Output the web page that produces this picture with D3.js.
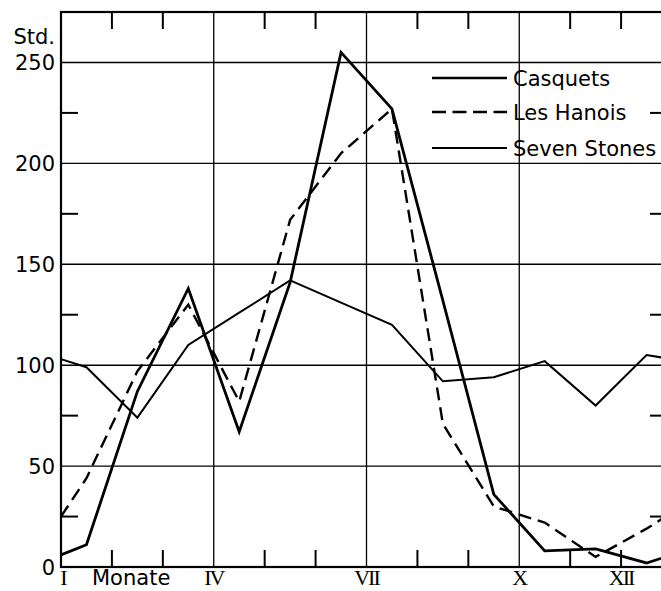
<!DOCTYPE html>
<html>
<head>
<meta charset="utf-8">
<script src="https://cdn.jsdelivr.net/npm/d3@7"></script>
<style>
  body { margin: 0; background: #fff; }
  svg text { fill: #000; }
</style>
</head>
<body>
<div id="chart"></div>
<script>
// month position (0 = start of Jan, 12 = end of Dec), points at mid-month
const monthPos = [0, 0.5, 1.5, 2.5, 3.5, 4.5, 5.5, 6.5, 7.5, 8.5, 9.5, 10.5, 11.5, 12];
const casquets = [6, 11, 87, 138, 67, 141, 255, 227, 132, 36, 8, 9, 2, 6];
const lesHanois = [25, 44, 97, 130, 82, 172, 205, 227, 71, 30, 22, 5, 19, 27];
const sevenStones = [103, 99, 74, 110, 126, 142, 131, 120, 92, 94, 102, 80, 105, 103];

const seriesNames = ["Casquets", "Les Hanois", "Seven Stones"];
const yTicks = [0, 50, 100, 150, 200, 250];
const yMinor = [25, 75, 125, 175, 225];
const monthLabels = [[0, "I"], [3, "IV"], [6, "VII"], [9, "X"], [11, "XII"]];
const xGrid = [3, 6, 9];
const xMinor = [1, 2, 4, 5, 7, 8, 10, 11];

const svgWidth = 661;
const svgHeight = 591;

const svg = d3.select("#chart")
              .append("svg")
              .attr("width", svgWidth)
              .attr("height", svgHeight);

const x = d3.scaleLinear().domain([0, 12]).range([61, 672]);
const y = d3.scaleLinear().domain([0, 275]).range([567, 12]);

// grid lines
svg.append("g")
   .selectAll("line")
   .data(yTicks.filter(d => d > 0))
   .join("line")
   .attr("x1", x(0)).attr("x2", x(12))
   .attr("y1", d => y(d)).attr("y2", d => y(d))
   .attr("stroke", "#000").attr("stroke-width", 1.4);

svg.append("g")
   .selectAll("line")
   .data(xGrid)
   .join("line")
   .attr("x1", d => x(d)).attr("x2", d => x(d))
   .attr("y1", y(0)).attr("y2", y(275))
   .attr("stroke", "#000").attr("stroke-width", 1.3);

// minor ticks on all four sides
const tickLen = 17;
const ticks = svg.append("g").attr("stroke", "#000").attr("stroke-width", 2);
xMinor.forEach(m => {
    ticks.append("line").attr("x1", x(m)).attr("x2", x(m))
         .attr("y1", y(275)).attr("y2", y(275) + tickLen);
    ticks.append("line").attr("x1", x(m)).attr("x2", x(m))
         .attr("y1", y(0)).attr("y2", y(0) - tickLen);
});
yMinor.forEach(v => {
    ticks.append("line").attr("x1", x(0)).attr("x2", x(0) + tickLen)
         .attr("y1", y(v)).attr("y2", y(v));
    ticks.append("line").attr("x1", 650).attr("x2", x(12))
         .attr("y1", y(v)).attr("y2", y(v));
});

// frame
svg.append("rect")
   .attr("x", x(0)).attr("y", y(275))
   .attr("width", x(12) - x(0)).attr("height", y(0) - y(275))
   .attr("fill", "none").attr("stroke", "#000").attr("stroke-width", 2.2);

// y labels
svg.append("g")
   .selectAll("text")
   .data(yTicks)
   .join("text")
   .attr("x", 55)
   .attr("y", d => y(d) + 7.5)
   .attr("text-anchor", "end")
   .style("font-family", "'DejaVu Sans', sans-serif")
   .style("font-size", "21px")
   .text(d => d);

svg.append("text")
   .attr("x", 55).attr("y", 44)
   .attr("text-anchor", "end")
   .style("font-family", "'DejaVu Sans', sans-serif")
   .style("font-size", "21px")
   .text("Std.");

// month labels
svg.append("g")
   .selectAll("text")
   .data(monthLabels)
   .join("text")
   .attr("x", d => x(d[0]) + (d[0] === 0 ? 2 : 0))
   .attr("y", 585)
   .attr("text-anchor", "middle")
   .style("font-family", "'Liberation Serif', serif")
   .style("font-size", "22px")
   .style("letter-spacing", "-2px")
   .text(d => d[1]);

svg.append("text")
   .attr("x", 92).attr("y", 585)
   .style("font-family", "'DejaVu Sans', sans-serif")
   .style("font-size", "21px")
   .text("Monate");

// series lines
const line = d3.line()
               .x((d, i) => x(monthPos[i]))
               .y(d => y(d));

const styles = [
    { data: casquets, width: 2.8, dash: null },
    { data: lesHanois, width: 2.4, dash: "13,7" },
    { data: sevenStones, width: 2, dash: null }
];

styles.forEach(s => {
    svg.append("path")
       .datum(s.data)
       .attr("d", line)
       .attr("fill", "none")
       .attr("stroke", "#000")
       .attr("stroke-width", s.width)
       .attr("stroke-linejoin", "miter")
       .attr("stroke-dasharray", s.dash);
});

// legend
const legendY = [78, 112, 148];
styles.forEach((s, i) => {
    svg.append("line")
       .attr("x1", 432).attr("x2", 507)
       .attr("y1", legendY[i]).attr("y2", legendY[i])
       .attr("stroke", "#000")
       .attr("stroke-width", i === 0 ? 2.4 : s.width)
       .attr("stroke-dasharray", s.dash ? "14,6.5" : null);
    svg.append("text")
       .attr("x", 513).attr("y", legendY[i] + 7.5)
       .style("font-family", "'DejaVu Sans', sans-serif")
       .style("font-size", "21px")
       .text(seriesNames[i]);
});
</script>
</body>
</html>
